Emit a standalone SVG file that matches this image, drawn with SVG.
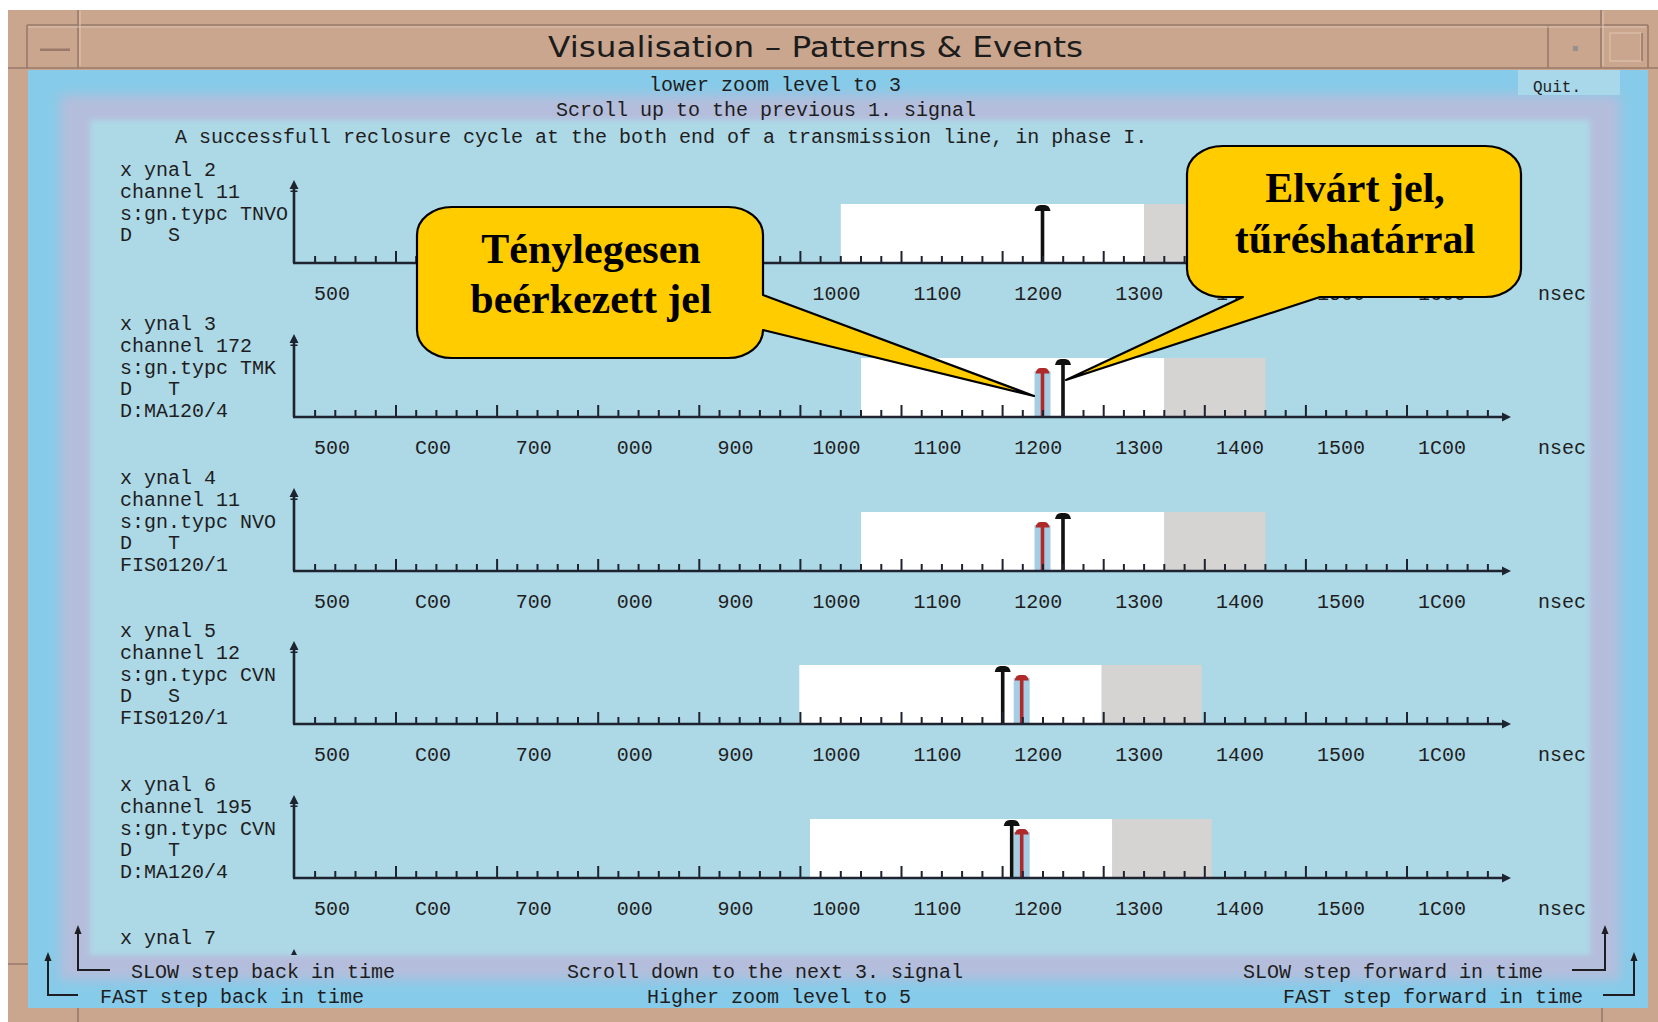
<svg xmlns="http://www.w3.org/2000/svg" xmlns:xlink="http://www.w3.org/1999/xlink" width="1658" height="1022" viewBox="0 0 1658 1022">
  <style>
    .px { font-family: "Liberation Mono", "DejaVu Sans Mono", monospace; font-size: 20px; fill: #1e1e22; }
    .tl { font-family: "Liberation Mono", "DejaVu Sans Mono", monospace; font-size: 20px; fill: #1e1e22; text-anchor: middle; }
    .title { font-family: "DejaVu Sans", "Liberation Sans", sans-serif; font-size: 29px; fill: #1c1c1c; }
    .call { font-family: "Liberation Serif", "Times New Roman", serif; font-size: 42px; font-weight: bold; fill: #000; text-anchor: middle; }
    .win { fill: #ffffff; }
    .tol { fill: #d6d3d3; }
    .ax { fill: none; stroke: #1e2330; stroke-width: 2.6; }
    .tk { fill: none; stroke: #1e2330; stroke-width: 2; }
    .frame-dark { stroke: #98796a; stroke-width: 1.6; fill: none; }
    .frame-light { stroke: #dcc2ae; stroke-width: 1.2; fill: none; }
    .bubble { fill: #ffcc00; stroke: #000; stroke-width: 2.2; stroke-linejoin: round; }
    .lead { fill: none; stroke: #1e1e22; stroke-width: 2; }
  </style>
  <defs>
    <filter id="soft" x="-5%" y="-5%" width="110%" height="110%">
      <feGaussianBlur stdDeviation="6"/>
    </filter>
    <filter id="soft2" x="-5%" y="-5%" width="110%" height="110%">
      <feGaussianBlur stdDeviation="2.5"/>
    </filter>
    <clipPath id="content-clip">
      <rect x="90" y="120" width="1500" height="835"/>
    </clipPath>
    <!-- time axis with y-axis, ticks and arrowheads; origin at the axis line -->
    <g id="axis">
      <path class="ax" d="M294,0 V-76 M293,0 H1503"/>
      <path d="M294,-83 L298.5,-74 L289.5,-74 Z M290.5,-72.5 h7 v1.6 h-7 Z" fill="#1e2330"/>
      <path d="M1511,0 L1502,-4.5 L1502,4.5 Z" fill="#1e2330"/>
      <path class="tk" d="M315.1 0v-7M335.3 0v-7M355.5 0v-7M375.8 0v-7M416.2 0v-7M436.4 0v-7M456.6 0v-7M476.9 0v-7M517.3 0v-7M537.5 0v-7M557.7 0v-7M578 0v-7M618.4 0v-7M638.6 0v-7M658.8 0v-7M679.1 0v-7M719.5 0v-7M739.7 0v-7M759.9 0v-7M780.2 0v-7M820.6 0v-7M840.8 0v-7M861 0v-7M881.3 0v-7M921.7 0v-7M941.9 0v-7M962.1 0v-7M982.4 0v-7M1022.8 0v-7M1043 0v-7M1063.2 0v-7M1083.5 0v-7M1123.9 0v-7M1144.1 0v-7M1164.3 0v-7M1184.6 0v-7M1225 0v-7M1245.2 0v-7M1265.4 0v-7M1285.7 0v-7M1326.1 0v-7M1346.3 0v-7M1366.5 0v-7M1386.8 0v-7M1427.2 0v-7M1447.4 0v-7M1467.6 0v-7M1487.9 0v-7"/>
      <path class="tk" d="M396 0v-12M497.1 0v-12M598.2 0v-12M699.3 0v-12M800.4 0v-12M901.5 0v-12M1002.6 0v-12M1103.7 0v-12M1204.8 0v-12M1305.9 0v-12M1407 0v-12"/>
    </g>
    <!-- expected event marker (black) -->
    <g id="mk-black">
      <rect x="-1.8" y="-54" width="3.6" height="54" fill="#111"/>
      <path d="M-8,-52 Q-7,-58 -2,-58 H2 Q7,-58 8,-52 Z" fill="#111"/>
    </g>
    <!-- received event marker (red) -->
    <g id="mk-red">
      <rect x="-8" y="-46" width="16" height="46" fill="#a5cde3"/>
      <rect x="-1.8" y="-45" width="3.6" height="45" fill="#b02a2a"/>
      <path d="M-7,-43.5 Q-6,-49 -2,-49 H2 Q6,-49 7,-43.5 Z" fill="#b02a2a"/>
    </g>
    <g id="arrow-up">
      <path d="M0,0 L3.5,9 L-3.5,9 Z" fill="#1e1e22"/>
    </g>
  </defs>

  <!-- window frame -->
  <g id="window">
    <rect x="0" y="0" width="1658" height="1022" fill="#ffffff"/>
    <rect x="8" y="10" width="1650" height="1012" fill="#caa68e"/>
    <path class="frame-dark" d="M27,25 H1648 M27,25 V68 M78,10 V68 M1548,25 V68 M1601,10 V68 M1648,25 V68 M8,68 H1658"/>
    <path class="frame-light" d="M28,27 H1646 M80,11 V66 M1603,11 V66"/>
    <rect x="40" y="48.5" width="30" height="2.5" fill="#98796a"/>
    <rect x="1573" y="46" width="5" height="5" fill="#9a8f8f"/>
    <rect x="1610" y="33" width="31" height="28" fill="none" stroke="#dcc2ae" stroke-width="1.2"/>
    <line x1="1642" y1="33" x2="1642" y2="61" stroke="#98796a" stroke-width="1.6"/>
    <path class="frame-dark" d="M8,964 H28 M78,1008 V1022 M1602,1008 V1022"/>
    <text class="title" x="548" y="57" textLength="535" lengthAdjust="spacingAndGlyphs">Visualisation – Patterns &amp; Events</text>
  </g>

  <!-- panel bands -->
  <g id="panel">
    <rect x="28" y="70" width="1620" height="938" fill="#86cbe9"/>
    <rect x="60" y="95" width="1560" height="885" fill="#b4bedc" filter="url(#soft)"/>
    <rect x="90" y="120" width="1500" height="835" fill="#add8e6" filter="url(#soft2)"/>
    <rect x="1518" y="70" width="102" height="25" fill="#a8d8ea"/>
    <text class="px" x="1533" y="92" style="font-size:16px">Quit.</text>
    <text class="px" x="649" y="91">lower zoom level to 3</text>
    <text class="px" x="556" y="116">Scroll up to the previous 1. signal</text>
    <text class="px" x="175" y="143">A successfull reclosure cycle at the both end of a transmission line, in phase I.</text>
  </g>

  <!-- signal 2 (labels 600-900 lie under the callout) -->
  <g id="signal-2">
    <rect class="win" x="840.8" y="204" width="303.3" height="59"/>
    <rect class="tol" x="1144.1" y="204" width="101.1" height="59"/>
    <use xlink:href="#mk-black" x="1042.5" y="263"/>
    <use xlink:href="#axis" y="263"/>
    <text class="px" x="120" y="176">x ynal 2</text>
    <text class="px" x="120" y="198">channel 11</text>
    <text class="px" x="120" y="220">s:gn.typc TNVO</text>
    <text class="px" x="120" y="241" xml:space="preserve">D   S</text>
    <g transform="translate(0,300)">
      <text class="tl" x="332" y="0">500</text><text class="tl" x="836.5" y="0">1000</text><text class="tl" x="937.4" y="0">1100</text><text class="tl" x="1038.3" y="0">1200</text><text class="tl" x="1139.2" y="0">1300</text><text class="tl" x="1240.1" y="0">1400</text><text class="tl" x="1341" y="0">1500</text><text class="tl" x="1441.9" y="0">1C00</text><text class="tl" x="1562" y="0">nsec</text>
    </g>
  </g>

  <!-- signal 3 -->
  <g id="signal-3">
    <rect class="win" x="861" y="358" width="303.3" height="59"/>
    <rect class="tol" x="1164.3" y="358" width="101.1" height="59"/>
    <use xlink:href="#mk-red" x="1042.5" y="417"/>
    <use xlink:href="#mk-black" x="1063" y="417"/>
    <use xlink:href="#axis" y="417"/>
    <text class="px" x="120" y="330">x ynal 3</text>
    <text class="px" x="120" y="352">channel 172</text>
    <text class="px" x="120" y="374">s:gn.typc TMK</text>
    <text class="px" x="120" y="395" xml:space="preserve">D   T</text>
    <text class="px" x="120" y="417">D:MA120/4</text>
    <g transform="translate(0,454)">
      <text class="tl" x="332" y="0">500</text><text class="tl" x="432.9" y="0">C00</text><text class="tl" x="533.8" y="0">700</text><text class="tl" x="634.7" y="0">000</text><text class="tl" x="735.6" y="0">900</text><text class="tl" x="836.5" y="0">1000</text><text class="tl" x="937.4" y="0">1100</text><text class="tl" x="1038.3" y="0">1200</text><text class="tl" x="1139.2" y="0">1300</text><text class="tl" x="1240.1" y="0">1400</text><text class="tl" x="1341" y="0">1500</text><text class="tl" x="1441.9" y="0">1C00</text><text class="tl" x="1562" y="0">nsec</text>
    </g>
  </g>

  <!-- signal 4 -->
  <g id="signal-4">
    <rect class="win" x="861" y="512" width="303.3" height="59"/>
    <rect class="tol" x="1164.3" y="512" width="101.1" height="59"/>
    <use xlink:href="#mk-red" x="1042.5" y="571"/>
    <use xlink:href="#mk-black" x="1063" y="571"/>
    <use xlink:href="#axis" y="571"/>
    <text class="px" x="120" y="484">x ynal 4</text>
    <text class="px" x="120" y="506">channel 11</text>
    <text class="px" x="120" y="528">s:gn.typc NVO</text>
    <text class="px" x="120" y="549" xml:space="preserve">D   T</text>
    <text class="px" x="120" y="571">FIS0120/1</text>
    <g transform="translate(0,608)">
      <text class="tl" x="332" y="0">500</text><text class="tl" x="432.9" y="0">C00</text><text class="tl" x="533.8" y="0">700</text><text class="tl" x="634.7" y="0">000</text><text class="tl" x="735.6" y="0">900</text><text class="tl" x="836.5" y="0">1000</text><text class="tl" x="937.4" y="0">1100</text><text class="tl" x="1038.3" y="0">1200</text><text class="tl" x="1139.2" y="0">1300</text><text class="tl" x="1240.1" y="0">1400</text><text class="tl" x="1341" y="0">1500</text><text class="tl" x="1441.9" y="0">1C00</text><text class="tl" x="1562" y="0">nsec</text>
    </g>
  </g>

  <!-- signal 5 -->
  <g id="signal-5">
    <rect class="win" x="799.3" y="665" width="302.4" height="59"/>
    <rect class="tol" x="1101.7" y="665" width="100" height="59"/>
    <use xlink:href="#mk-black" x="1002.7" y="724"/>
    <use xlink:href="#mk-red" x="1021.7" y="724"/>
    <use xlink:href="#axis" y="724"/>
    <text class="px" x="120" y="637">x ynal 5</text>
    <text class="px" x="120" y="659">channel 12</text>
    <text class="px" x="120" y="681">s:gn.typc CVN</text>
    <text class="px" x="120" y="702" xml:space="preserve">D   S</text>
    <text class="px" x="120" y="724">FIS0120/1</text>
    <g transform="translate(0,761)">
      <text class="tl" x="332" y="0">500</text><text class="tl" x="432.9" y="0">C00</text><text class="tl" x="533.8" y="0">700</text><text class="tl" x="634.7" y="0">000</text><text class="tl" x="735.6" y="0">900</text><text class="tl" x="836.5" y="0">1000</text><text class="tl" x="937.4" y="0">1100</text><text class="tl" x="1038.3" y="0">1200</text><text class="tl" x="1139.2" y="0">1300</text><text class="tl" x="1240.1" y="0">1400</text><text class="tl" x="1341" y="0">1500</text><text class="tl" x="1441.9" y="0">1C00</text><text class="tl" x="1562" y="0">nsec</text>
    </g>
  </g>

  <!-- signal 6 -->
  <g id="signal-6">
    <rect class="win" x="810" y="819" width="302.3" height="59"/>
    <rect class="tol" x="1112.3" y="819" width="99.4" height="59"/>
    <use xlink:href="#mk-red" x="1021.7" y="878"/>
    <use xlink:href="#mk-black" x="1011.7" y="878"/>
    <use xlink:href="#axis" y="878"/>
    <text class="px" x="120" y="791">x ynal 6</text>
    <text class="px" x="120" y="813">channel 195</text>
    <text class="px" x="120" y="835">s:gn.typc CVN</text>
    <text class="px" x="120" y="856" xml:space="preserve">D   T</text>
    <text class="px" x="120" y="878">D:MA120/4</text>
    <g transform="translate(0,915)">
      <text class="tl" x="332" y="0">500</text><text class="tl" x="432.9" y="0">C00</text><text class="tl" x="533.8" y="0">700</text><text class="tl" x="634.7" y="0">000</text><text class="tl" x="735.6" y="0">900</text><text class="tl" x="836.5" y="0">1000</text><text class="tl" x="937.4" y="0">1100</text><text class="tl" x="1038.3" y="0">1200</text><text class="tl" x="1139.2" y="0">1300</text><text class="tl" x="1240.1" y="0">1400</text><text class="tl" x="1341" y="0">1500</text><text class="tl" x="1441.9" y="0">1C00</text><text class="tl" x="1562" y="0">nsec</text>
    </g>
  </g>

  <!-- signal 7, cut off by the panel edge -->
  <g id="signal-7" clip-path="url(#content-clip)">
    <text class="px" x="120" y="944">x ynal 7</text>
    <use xlink:href="#axis" y="1032"/>
  </g>

  <!-- navigation labels -->
  <g id="navigation">
    <text class="px" x="131" y="978">SLOW step back in time</text>
    <text class="px" x="100" y="1003">FAST step back in time</text>
    <text class="px" x="567" y="978">Scroll down to the next 3. signal</text>
    <text class="px" x="647" y="1003">Higher zoom level to 5</text>
    <text class="px" x="1243" y="978">SLOW step forward in time</text>
    <text class="px" x="1283" y="1003">FAST step forward in time</text>
  </g>

  <!-- leader arrows from the navigation labels -->
  <g id="connectors">
    <path class="lead" d="M110,970 H78 V932"/>
    <use xlink:href="#arrow-up" x="78" y="925"/>
    <path class="lead" d="M78,995 H48 V959"/>
    <use xlink:href="#arrow-up" x="48" y="952"/>
    <path class="lead" d="M1572,970 H1605 V932"/>
    <use xlink:href="#arrow-up" x="1605" y="925"/>
    <path class="lead" d="M1603,995 H1634 V959"/>
    <use xlink:href="#arrow-up" x="1634" y="952"/>
  </g>

  <!-- callout: received signal -->
  <g id="callout-received">
    <path class="bubble" d="M452,207 H728 A35 28 0 0 1 763,235 V295 L1034,396 L763,330 A35 28 0 0 1 728,358 H452 A35 28 0 0 1 417,330 V235 A35 28 0 0 1 452,207 Z"/>
    <text class="call" x="591" y="263">Ténylegesen</text>
    <text class="call" x="591" y="313">beérkezett jel</text>
  </g>

  <!-- callout: expected signal with tolerance -->
  <g id="callout-expected">
    <path class="bubble" d="M1223,146 H1485 A36 28 0 0 1 1521,174 V269 A36 28 0 0 1 1485,297 H1320 L1066,380 L1243,297 H1223 A36 28 0 0 1 1187,269 V174 A36 28 0 0 1 1223,146 Z"/>
    <text class="call" x="1355" y="202">Elvárt jel,</text>
    <text class="call" x="1355" y="253">tűréshatárral</text>
  </g>
</svg>
